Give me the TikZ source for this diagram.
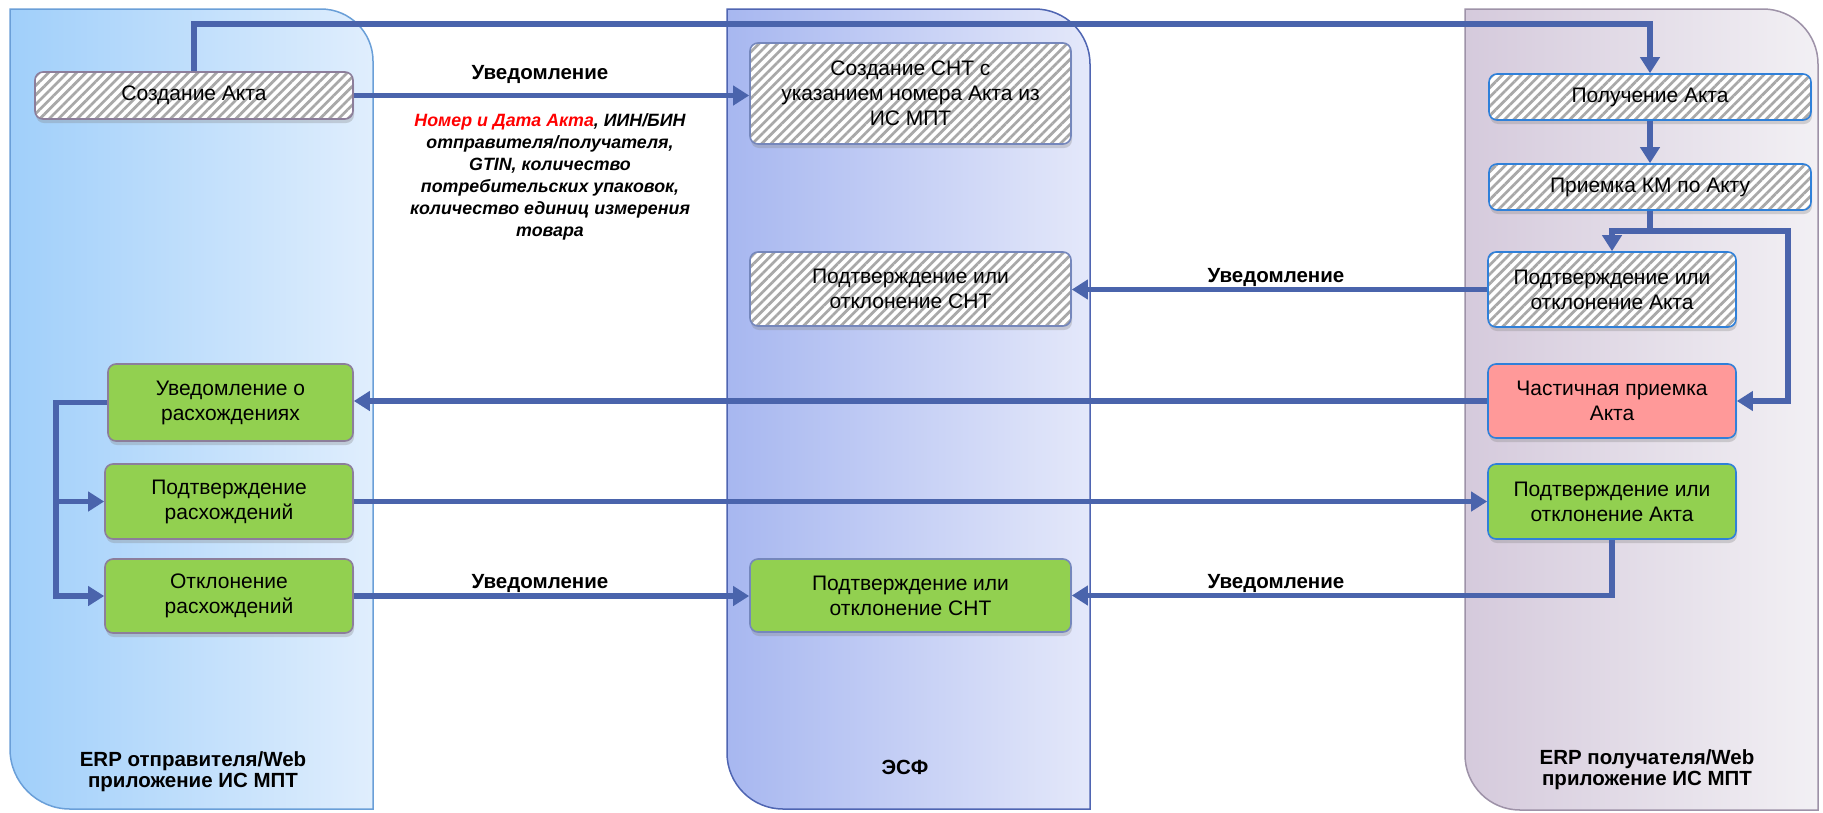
\documentclass[tikz,border=0pt]{standalone}
\usepackage{fontspec}
\setmainfont{Liberation Sans}
\usetikzlibrary{arrows.meta,patterns.meta,shadows,calc}
\definecolor{linec}{HTML}{4A64AC}
\definecolor{lanelA}{HTML}{A0CFFA}
\definecolor{lanelB}{HTML}{E0EEFD}
\definecolor{lanelD}{HTML}{6A9FD8}
\definecolor{lanemA}{HTML}{A7B7F0}
\definecolor{lanemB}{HTML}{E4E8FA}
\definecolor{lanemD}{HTML}{4F65B2}
\definecolor{lanerA}{HTML}{D5CADC}
\definecolor{lanerB}{HTML}{F2F0F4}
\definecolor{lanerD}{HTML}{9E92A8}
\definecolor{greenbox}{HTML}{92D050}
\definecolor{pinkbox}{HTML}{FF9999}
\definecolor{lbord}{HTML}{8C7E9B}
\definecolor{mbord}{HTML}{7587BC}
\definecolor{rbord}{HTML}{2F80D9}
\begin{document}
\begin{tikzpicture}[x=1pt,y=-1pt,
  box/.style={rounded corners=8pt, line width=1.6pt, align=center, inner sep=0pt,
    font=\fontsize{21}{25}\selectfont,
    drop shadow={opacity=0.3,shadow xshift=1pt,shadow yshift=-4pt}},
  hatch/.style={preaction={fill=white}, pattern={Lines[angle=45,distance=6.6pt,line width=2.7pt]}, pattern color=black!34},
  gbox/.style={fill=greenbox},
  pbox/.style={fill=pinkbox},
  conn/.style={line width=5.8pt, draw=linec, -{Triangle[length=16pt,width=19pt]}},
  plain/.style={line width=5.8pt, draw=linec},
  lbl/.style={font=\fontsize{20.5}{24}\selectfont\bfseries, inner sep=0pt},
  itl/.style={font=\fontsize{17.8}{22}\selectfont\bfseries\itshape, align=center, inner sep=0pt},
  lanelbl/.style={font=\fontsize{20.5}{21}\selectfont\bfseries, align=center, inner sep=0pt}
]
\useasboundingbox (0,0) rectangle (1823,812);
\fill[white] (0,0) rectangle (1823,812);

% lanes
\path[draw=lanelD, line width=1.5pt, left color=lanelA, right color=lanelB]
  (10,9) -- (321,9) .. controls (349.7,9) and (373,32.3) .. (373,61)
  -- (373,809) -- (70,809) .. controls (36.9,809) and (10,782.1) .. (10,749) -- cycle;
\path[draw=lanemD, line width=1.5pt, left color=lanemA, right color=lanemB]
  (727,9) -- (1035,9) .. controls (1065.4,9) and (1090,33.6) .. (1090,64)
  -- (1090,809) -- (783,809) .. controls (752.1,809) and (727,783.9) .. (727,753) -- cycle;
\path[draw=lanerD, line width=1.5pt, left color=lanerA, right color=lanerB]
  (1465,9) -- (1763,9) .. controls (1793.4,9) and (1818,33.6) .. (1818,64)
  -- (1818,810) -- (1520,810) .. controls (1489.6,810) and (1465,785.4) .. (1465,755) -- cycle;

% lane labels
\node[lanelbl] (lane1) at (193,772) {ERP отправителя/Web\\приложение ИС МПТ};
\node[lanelbl] (lane2) at (905,767) {ЭСФ};
\node[lanelbl] (lane3) at (1647,770) {ERP получателя/Web\\приложение ИС МПТ};

% boxes left lane
\node[box, hatch, draw=lbord, minimum width=318pt, minimum height=47pt] (A) at (194,95.5) {Создание Акта};
\node[box, gbox, draw=lbord, minimum width=245pt, minimum height=77pt] (J) at (230.5,402.5) {Уведомление о\\расхождениях};
\node[box, gbox, draw=lbord, minimum width=248pt, minimum height=75pt] (K) at (229,501.5) {Подтверждение\\расхождений};
\node[box, gbox, draw=lbord, minimum width=248pt, minimum height=74pt] (L) at (229,596) {Отклонение\\расхождений};

% boxes middle lane
\node[box, hatch, draw=mbord, minimum width=321pt, minimum height=101pt] (B) at (910.5,93.5) {Создание СНТ с\\указанием номера Акта из\\ИС МПТ};
\node[box, hatch, draw=mbord, minimum width=321pt, minimum height=74pt] (C) at (910.5,289) {Подтверждение или\\отклонение СНТ};
\node[box, gbox, draw=mbord, minimum width=321pt, minimum height=73pt] (D) at (910.5,595.5) {Подтверждение или\\отклонение СНТ};

% boxes right lane
\node[box, hatch, draw=rbord, minimum width=322pt, minimum height=46pt] (E) at (1650,97) {Получение Акта};
\node[box, hatch, draw=rbord, minimum width=322pt, minimum height=46pt] (F) at (1650,187) {Приемка КМ по Акту};
\node[box, hatch, draw=rbord, minimum width=248pt, minimum height=75pt] (G) at (1612,289.5) {Подтверждение или\\отклонение Акта};
\node[box, pbox, draw=rbord, minimum width=248pt, minimum height=74pt] (H) at (1612,401) {Частичная приемка\\Акта};
\node[box, gbox, draw=rbord, minimum width=248pt, minimum height=75pt] (I) at (1612,501.5) {Подтверждение или\\отклонение Акта};

% helper coordinates
\coordinate (t1) at (194,24);
\coordinate (fj) at (1650,231);
\coordinate (rr) at (1788,231);
\coordinate (lx) at (56,402.5);

% connectors
\draw[conn] (A.north) -- (t1) -| (E.north);
\draw[conn] (A.east) -- (A.east -| B.west);
\draw[conn] (E.south) -- (F.north);
\draw[plain] (F.south) -- (fj);
\draw[conn] (fj) -| (G.north);
\draw[conn] (fj) -- (rr) |- (H.east);
\draw[conn] (G.west) -- (G.west -| C.east);
\draw[conn] (H.west) -- (H.west -| J.east);
\draw[conn] (J.west) -- (lx) |- (K.west);
\draw[conn] (lx) |- (L.west);
\draw[conn] (K.east) -- (K.east -| I.west);
\draw[conn] (L.east) -- (L.east -| D.west);
\draw[conn] (I.south) |- (D.east);

% labels
\node[lbl] (n1) at (540,74) {Уведомление};
\node[itl] (n1d) at (550,177) {{\color{red}Номер и Дата Акта}, ИИН/БИН\\отправителя/получателя,\\GTIN, количество\\потребительских упаковок,\\количество единиц измерения\\товара};
\node[lbl] (n2) at (1276,277) {Уведомление};
\node[lbl] (n3) at (540,583) {Уведомление};
\node[lbl] (n4) at (1276,583) {Уведомление};
\end{tikzpicture}
\end{document}
